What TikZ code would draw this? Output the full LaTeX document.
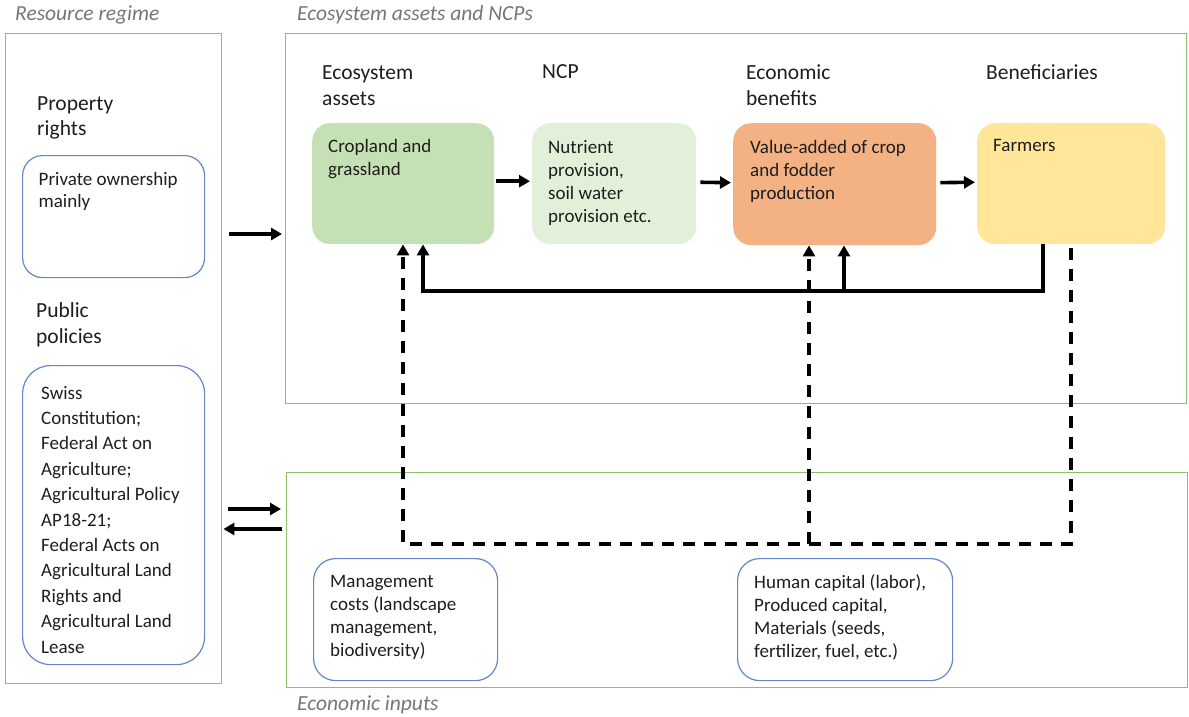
\documentclass[tikz,border=0pt]{standalone}
\usepackage{fontspec}
\setmainfont{Carlito}
\usetikzlibrary{arrows.meta}
\definecolor{frameg}{RGB}{140,192,105}
\definecolor{boxblue}{RGB}{100,135,200}
\definecolor{txt}{RGB}{30,30,30}
\definecolor{lbl}{RGB}{118,118,118}
\definecolor{cropc}{RGB}{197,224,180}
\definecolor{ncpc}{RGB}{226,240,217}
\definecolor{econc}{RGB}{244,177,131}
\definecolor{farmc}{RGB}{255,230,153}
\tikzset{
  frame/.style={draw=frameg, line width=1.4pt, rectangle, anchor=north west, inner sep=0pt},
  bluebox/.style={draw=boxblue, line width=1.2pt, rectangle, rounded corners=22pt, anchor=north west, inner sep=0pt},
  colbox/.style={rectangle, rounded corners=18pt, anchor=north west, inner sep=0pt},
  btxt/.style={anchor=north west, inner sep=0pt, align=left, text=txt, font=\fontsize{19}{23}\selectfont},
  htxt/.style={anchor=north west, inner sep=0pt, align=left, text=txt, font=\fontsize{21.5}{26}\selectfont},
  ltxt/.style={anchor=base west, inner sep=0pt, text=lbl, font=\fontsize{21.5}{26}\selectfont\itshape},
  arr/.style={line width=3.6pt, -{Triangle[length=11pt,width=12pt]}},
  darr/.style={line width=3.6pt, dash pattern=on 12pt off 9pt, -{Triangle[length=11pt,width=12pt]}}
}
\begin{document}
\begin{tikzpicture}[x=1pt,y=-1pt]
\useasboundingbox (0,0) rectangle (1189,717);
% frames
\node[frame, minimum width=216pt, minimum height=650pt] (rr) at (5,33) {};
\node[frame, minimum width=901pt, minimum height=370pt] (ea) at (285,33) {};
\node[frame, minimum width=901pt, minimum height=215pt] (ei) at (286,472) {};
% frame labels
\node[ltxt] (rrl) at (15,21) {Resource regime};
\node[ltxt] (eal) at (297,21) {Ecosystem assets and NCPs};
\node[ltxt] (eil) at (297,710) {Economic inputs};
% resource regime contents
\node[htxt, font=\fontsize{21.5}{25}\selectfont] (prh) at (37,92.5) {\strut Property\\rights};
\node[bluebox, rounded corners=20pt, minimum width=182pt, minimum height=122pt] (priv) at (22,155) {};
\node[btxt, font=\fontsize{19}{22}\selectfont] (privt) at (38.5,169.6) {\strut Private ownership\\mainly};
\node[htxt] (pph) at (36,298.8) {\strut Public\\policies};
\node[bluebox, rounded corners=28pt, minimum width=182pt, minimum height=299pt] (pol) at (22,365) {};
\node[btxt, font=\fontsize{19}{25.4}\selectfont] (polt) at (41,381.2) {\strut Swiss\\Constitution;\\Federal Act on\\Agriculture;\\Agricultural Policy\\AP18-21;\\Federal Acts on\\Agricultural Land\\Rights and\\Agricultural Land\\Lease};
% headers
\node[htxt] (h1) at (322,60.8) {\strut Ecosystem\\assets};
\node[htxt] (h2) at (542,59.8) {\strut NCP};
\node[htxt] (h3) at (746,60.8) {\strut Economic\\benefits};
\node[htxt] (h4) at (986,60.8) {\strut Beneficiaries};
% coloured boxes
\node[colbox, fill=cropc, minimum width=182pt, minimum height=121pt] (crop) at (312,123) {};
\node[colbox, fill=ncpc, minimum width=164pt, minimum height=121pt] (ncp) at (532,123) {};
\node[colbox, fill=econc, minimum width=203pt, minimum height=122pt] (econ) at (733,123) {};
\node[colbox, fill=farmc, minimum width=188pt, minimum height=121pt] (farm) at (977,123) {};
\node[btxt] (cropt) at (328,135.9) {\strut Cropland and\\grassland};
\node[btxt] (ncpt) at (548,137) {\strut Nutrient\\provision,\\soil water\\provision etc.};
\node[btxt] (econt) at (750,137) {\strut Value-added of crop\\and fodder\\production};
\node[btxt] (farmt) at (993,135) {\strut Farmers};
% economic inputs boxes
\node[bluebox, minimum width=184pt, minimum height=122pt] (mgmt) at (313,558) {};
\node[btxt] (mgmtt) at (330,571) {\strut Management\\costs (landscape\\management,\\biodiversity)};
\node[bluebox, minimum width=215pt, minimum height=122pt] (hum) at (737,558) {};
\node[btxt] (humt) at (754,572) {\strut Human capital (labor),\\Produced capital,\\Materials (seeds,\\fertilizer, fuel, etc.)};
% horizontal arrows in chain
\draw[arr, shorten <=2pt, shorten >=2pt] ([yshift=2.5pt]crop.east) -- ([yshift=2.5pt]ncp.west);
\draw[arr, shorten <=4pt, shorten >=2pt] ([yshift=1.5pt]ncp.east) -- ([yshift=1.5pt]econ.west);
\draw[arr, shorten <=4pt, shorten >=2pt] ([yshift=1.5pt]econ.east) -- ([yshift=1.5pt]farm.west);
% arrows between frames
\draw[arr, shorten <=7pt, shorten >=3pt] (rr.east |- 0,234) -- (ea.west |- 0,234);
\draw[arr, shorten <=6pt, shorten >=5pt] (rr.east |- 0,509) -- (ei.west |- 0,509);
\draw[arr, shorten <=4pt, shorten >=1pt] (ei.west |- 0,529) -- (rr.east |- 0,529);
% solid feedback
\coordinate (fbL) at (423,291);
\coordinate (fbM) at (844,291);
\coordinate (fbR) at (1043,291);
\draw[arr] (farm.south -| fbR) -- (fbR) -- (fbL) -- (crop.south -| fbL);
\draw[arr] (fbM) -- (econ.south -| fbM);
% dashed inputs
\coordinate (dL) at (403,544);
\coordinate (dM) at (809,544);
\coordinate (dR) at (1071,544);
\draw[darr, shorten <=4pt] (farm.south -| dR) -- (dR) -- (dL) -- (crop.south -| dL);
\draw[darr] (dM) -- (econ.south -| dM);
\end{tikzpicture}
\end{document}
